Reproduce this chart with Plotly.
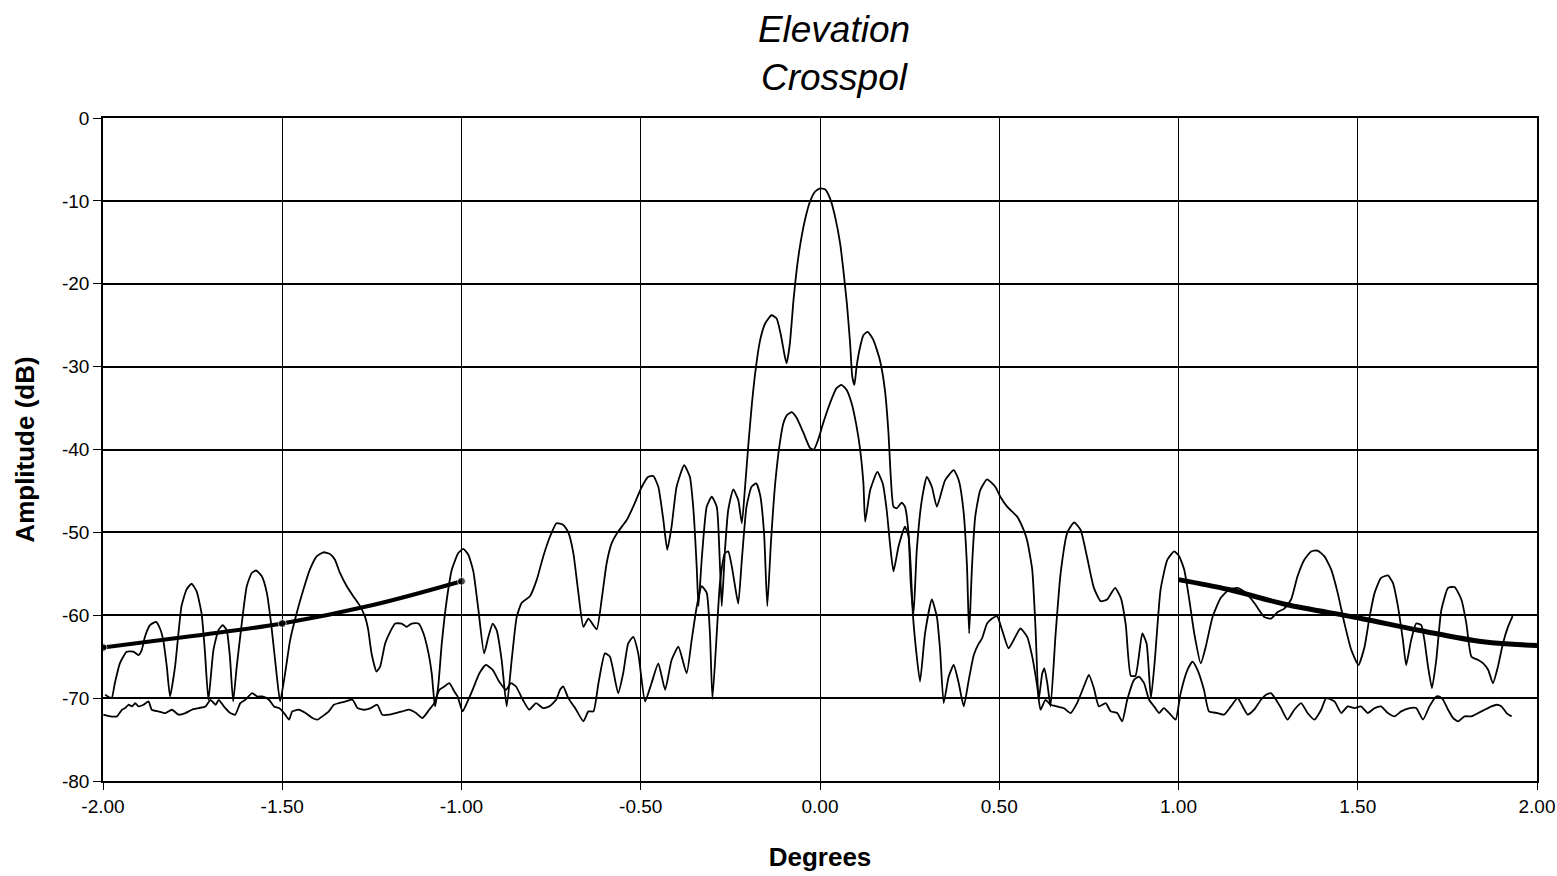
import plotly.graph_objects as go

# Elevation cut, crosspol measurement (degrees vs. dB)
copol_deg = [
    -1.994, -1.976, -1.967, -1.953, -1.934, -1.915, -1.901, -1.892, -1.883, -1.869,
    -1.852, -1.841, -1.832, -1.822, -1.813, -1.799, -1.781, -1.767, -1.753, -1.739,
    -1.725, -1.716, -1.706, -1.692, -1.678, -1.666, -1.655, -1.646, -1.637, -1.627,
    -1.613, -1.599, -1.585, -1.573, -1.557, -1.543, -1.530, -1.516, -1.506, -1.492,
    -1.478, -1.460, -1.441, -1.423, -1.404, -1.385, -1.367, -1.353, -1.339, -1.320,
    -1.302, -1.283, -1.269, -1.260, -1.251, -1.237, -1.227, -1.213, -1.199, -1.185,
    -1.167, -1.153, -1.139, -1.120, -1.106, -1.092, -1.083, -1.074, -1.065, -1.055,
    -1.041, -1.027, -1.009, -0.995, -0.981, -0.967, -0.953, -0.937, -0.925, -0.913,
    -0.902, -0.888, -0.874, -0.860, -0.846, -0.832, -0.809, -0.790, -0.772, -0.753,
    -0.735, -0.716, -0.702, -0.688, -0.674, -0.660, -0.646, -0.623, -0.609, -0.595,
    -0.581, -0.563, -0.539, -0.521, -0.497, -0.479, -0.465, -0.451, -0.437, -0.426,
    -0.414, -0.400, -0.379, -0.363, -0.353, -0.344, -0.339, -0.330, -0.316, -0.302,
    -0.288, -0.279, -0.274, -0.265, -0.256, -0.242, -0.228, -0.218, -0.209, -0.200,
    -0.190, -0.180, -0.167, -0.153, -0.135, -0.121, -0.110, -0.098, -0.093, -0.084,
    -0.074, -0.065, -0.056, -0.042, -0.028, -0.014, 0.000, 0.014, 0.028, 0.042,
    0.056, 0.065, 0.075, 0.084, 0.090, 0.096, 0.102, 0.112, 0.121, 0.133,
    0.149, 0.167, 0.181, 0.191, 0.197, 0.205, 0.214, 0.228, 0.237, 0.247,
    0.253, 0.261, 0.270, 0.284, 0.298, 0.312, 0.326, 0.349, 0.373, 0.387,
    0.400, 0.410, 0.416, 0.424, 0.433, 0.447, 0.466, 0.489, 0.503, 0.522,
    0.550, 0.568, 0.578, 0.592, 0.601, 0.610, 0.620, 0.626, 0.634, 0.643,
    0.657, 0.671, 0.690, 0.709, 0.727, 0.745, 0.764, 0.783, 0.801, 0.823,
    0.839, 0.853, 0.867, 0.880, 0.899, 0.911, 0.923, 0.934, 0.950, 0.969,
    0.988, 1.002, 1.016, 1.030, 1.044, 1.062, 1.076, 1.095, 1.118, 1.141,
    1.165, 1.188, 1.211, 1.230, 1.239, 1.258, 1.277, 1.295, 1.314, 1.332,
    1.351, 1.370, 1.388, 1.407, 1.426, 1.444, 1.463, 1.482, 1.502, 1.519,
    1.533, 1.547, 1.565, 1.584, 1.598, 1.612, 1.626, 1.635, 1.649, 1.663,
    1.677, 1.686, 1.696, 1.707, 1.719, 1.733, 1.752, 1.770, 1.789, 1.803,
    1.817, 1.836, 1.850, 1.864, 1.877, 1.891, 1.905, 1.919, 1.932,
]
copol_db = [
    -69.6, -70.0, -68.2, -65.8, -64.4, -64.4, -64.8, -64.2, -62.6, -61.2,
    -60.8, -61.6, -63.0, -66.2, -69.8, -66.2, -58.9, -56.9, -56.2, -57.1,
    -59.8, -64.2, -70.2, -64.2, -61.8, -61.2, -61.8, -65.0, -70.4, -66.2,
    -61.0, -56.5, -54.9, -54.6, -55.3, -57.3, -61.4, -67.0, -70.4, -67.0,
    -63.0, -59.8, -56.9, -54.5, -52.9, -52.4, -52.6, -53.3, -54.9, -56.5,
    -57.7, -58.9, -60.2, -61.8, -64.6, -66.8, -66.2, -63.4, -62.0, -61.0,
    -61.0, -61.4, -61.0, -61.0, -62.2, -64.6, -67.0, -71.0, -68.6, -63.4,
    -58.1, -54.5, -52.5, -52.0, -52.7, -54.7, -59.3, -64.6, -62.6, -61.0,
    -61.8, -65.4, -71.0, -65.4, -60.2, -58.5, -57.7, -55.7, -52.9, -50.5,
    -48.9, -49.1, -50.0, -52.5, -57.3, -61.4, -60.4, -61.7, -58.1, -53.7,
    -51.3, -49.9, -48.5, -46.9, -44.5, -43.3, -43.2, -44.5, -48.5, -52.1,
    -49.3, -44.5, -41.9, -43.3, -47.3, -54.1, -58.9, -53.3, -46.9, -45.7,
    -46.9, -54.1, -58.9, -52.1, -47.3, -44.8, -46.1, -48.9, -44.5, -39.5,
    -34.5, -30.5, -26.8, -24.8, -23.8, -24.2, -26.0, -28.8, -29.6, -27.2,
    -22.0, -18.3, -15.5, -12.3, -10.1, -8.9, -8.5, -8.6, -9.7, -11.9,
    -15.1, -18.3, -22.4, -27.2, -31.2, -32.2, -30.0, -27.6, -26.2, -25.8,
    -26.8, -29.2, -32.8, -38.0, -43.0, -46.9, -47.1, -46.4, -46.9, -50.1,
    -56.1, -59.8, -52.1, -46.1, -43.3, -44.5, -46.9, -43.7, -42.5, -43.7,
    -47.3, -54.1, -62.2, -54.1, -48.1, -44.9, -43.6, -44.5, -45.7, -46.9,
    -48.1, -49.7, -51.0, -54.5, -61.4, -70.2, -67.0, -66.4, -68.2, -71.0,
    -62.4, -55.0, -50.0, -48.8, -49.7, -53.0, -56.7, -58.3, -58.1, -56.7,
    -57.9, -61.2, -67.3, -67.3, -62.2, -63.4, -70.0, -65.4, -56.9, -53.3,
    -52.3, -52.9, -54.5, -58.1, -62.2, -65.8, -63.8, -60.2, -57.9, -56.9,
    -56.7, -57.3, -58.5, -59.7, -60.2, -60.4, -59.6, -59.2, -58.1, -55.3,
    -53.3, -52.3, -52.2, -52.9, -54.5, -57.3, -61.0, -64.2, -66.0, -63.8,
    -60.2, -57.3, -55.5, -55.2, -56.1, -58.9, -63.0, -66.0, -63.0, -61.0,
    -61.2, -63.0, -66.2, -68.8, -65.4, -59.4, -56.7, -56.6, -58.1, -61.0,
    -65.0, -65.4, -65.8, -66.6, -68.2, -66.2, -63.4, -61.4, -60.1,
]

xpol_deg = [
    -1.999, -1.980, -1.961, -1.947, -1.938, -1.929, -1.919, -1.910, -1.901, -1.887,
    -1.873, -1.864, -1.845, -1.826, -1.808, -1.789, -1.770, -1.752, -1.733, -1.714,
    -1.700, -1.686, -1.677, -1.663, -1.645, -1.631, -1.617, -1.603, -1.584, -1.570,
    -1.556, -1.537, -1.523, -1.509, -1.495, -1.481, -1.472, -1.454, -1.435, -1.416,
    -1.402, -1.388, -1.370, -1.356, -1.342, -1.323, -1.304, -1.290, -1.272, -1.253,
    -1.235, -1.221, -1.202, -1.183, -1.165, -1.146, -1.127, -1.109, -1.090, -1.076,
    -1.062, -1.048, -1.034, -1.020, -1.011, -0.997, -0.983, -0.969, -0.950, -0.932,
    -0.913, -0.895, -0.876, -0.862, -0.848, -0.829, -0.811, -0.792, -0.773, -0.755,
    -0.736, -0.725, -0.716, -0.702, -0.683, -0.660, -0.646, -0.632, -0.618, -0.600,
    -0.586, -0.563, -0.549, -0.535, -0.521, -0.507, -0.488, -0.470, -0.451, -0.432,
    -0.414, -0.395, -0.372, -0.358, -0.344, -0.330, -0.316, -0.307, -0.300, -0.288,
    -0.279, -0.265, -0.256, -0.246, -0.237, -0.228, -0.218, -0.205, -0.191, -0.178,
    -0.167, -0.156, -0.147, -0.137, -0.125, -0.112, -0.102, -0.091, -0.079, -0.065,
    -0.046, -0.028, -0.017, -0.005, 0.009, 0.028, 0.046, 0.060, 0.074, 0.088,
    0.102, 0.112, 0.121, 0.126, 0.140, 0.160, 0.175, 0.186, 0.196, 0.205,
    0.219, 0.237, 0.247, 0.253, 0.259, 0.268, 0.279, 0.293, 0.312, 0.326,
    0.335, 0.345, 0.359, 0.373, 0.387, 0.401, 0.415, 0.429, 0.443, 0.452,
    0.466, 0.480, 0.494, 0.508, 0.526, 0.540, 0.559, 0.578, 0.592, 0.606,
    0.615, 0.629, 0.643, 0.661, 0.680, 0.699, 0.717, 0.736, 0.750, 0.764,
    0.778, 0.797, 0.811, 0.829, 0.843, 0.857, 0.876, 0.890, 0.904, 0.918,
    0.932, 0.946, 0.959, 0.978, 0.992, 1.006, 1.025, 1.039, 1.053, 1.071,
    1.085, 1.109, 1.127, 1.146, 1.165, 1.179, 1.193, 1.211, 1.230, 1.244,
    1.258, 1.272, 1.286, 1.304, 1.323, 1.342, 1.360, 1.379, 1.398, 1.412,
    1.435, 1.454, 1.472, 1.491, 1.509, 1.528, 1.547, 1.565, 1.584, 1.603,
    1.621, 1.645, 1.663, 1.682, 1.700, 1.719, 1.728, 1.738, 1.752, 1.766,
    1.780, 1.798, 1.817, 1.836, 1.854, 1.873, 1.887, 1.901, 1.915, 1.929,
]
xpol_db = [
    -72.0, -72.2, -72.2, -71.4, -71.2, -70.8, -71.0, -70.6, -71.0, -70.8,
    -70.4, -71.4, -71.6, -71.8, -71.4, -72.0, -71.8, -71.4, -71.2, -71.0,
    -70.2, -70.8, -70.2, -71.0, -71.8, -72.0, -70.6, -70.2, -69.4, -69.8,
    -69.8, -70.2, -71.0, -71.2, -71.8, -72.6, -71.6, -71.4, -71.8, -72.4,
    -72.6, -72.2, -71.6, -70.8, -70.6, -70.4, -70.2, -71.2, -71.4, -71.2,
    -70.8, -72.0, -72.0, -71.8, -71.6, -71.4, -71.8, -72.4, -71.4, -70.6,
    -69.0, -68.6, -68.2, -69.2, -69.8, -71.6, -70.4, -69.0, -67.0, -66.0,
    -66.6, -68.0, -69.0, -68.2, -68.6, -70.2, -71.4, -70.6, -71.2, -71.0,
    -70.2, -69.0, -68.6, -70.0, -71.2, -72.8, -71.6, -71.6, -68.2, -64.6,
    -65.0, -69.4, -67.0, -63.4, -62.6, -64.6, -70.4, -68.2, -65.8, -69.0,
    -65.4, -63.8, -67.0, -63.0, -59.0, -56.5, -57.3, -62.2, -70.1, -62.2,
    -56.1, -52.5, -52.3, -54.1, -56.5, -58.6, -53.3, -46.9, -44.5, -44.1,
    -45.5, -50.1, -58.9, -51.3, -44.1, -39.2, -36.8, -35.8, -35.5, -36.2,
    -38.0, -39.8, -40.0, -38.8, -36.8, -34.4, -32.6, -32.2, -32.8, -34.4,
    -37.2, -40.0, -44.0, -48.7, -44.9, -42.7, -44.1, -47.3, -51.7, -54.7,
    -51.7, -49.3, -50.5, -54.1, -59.8, -64.2, -68.0, -62.2, -58.1, -60.2,
    -64.2, -70.6, -67.4, -66.0, -68.2, -71.0, -67.8, -64.8, -63.4, -62.8,
    -61.0, -60.4, -60.1, -61.8, -64.0, -63.0, -61.6, -62.6, -65.0, -68.6,
    -71.4, -70.2, -70.8, -71.0, -71.2, -71.8, -70.6, -68.6, -67.2, -68.8,
    -71.0, -70.6, -71.6, -71.8, -72.8, -70.2, -67.8, -67.4, -68.2, -70.2,
    -71.0, -71.8, -71.2, -72.0, -72.6, -69.4, -66.6, -65.6, -66.6, -69.0,
    -71.6, -71.8, -72.0, -71.0, -70.0, -71.0, -72.0, -71.4, -70.2, -69.6,
    -69.4, -70.2, -71.2, -72.6, -71.4, -70.6, -71.8, -72.6, -71.4, -70.0,
    -70.4, -71.8, -71.0, -71.2, -71.0, -71.8, -71.2, -71.0, -71.8, -72.2,
    -71.6, -71.2, -71.2, -72.6, -71.0, -69.8, -69.8, -70.2, -71.4, -72.4,
    -72.8, -72.2, -72.2, -71.8, -71.4, -71.0, -70.8, -71.0, -71.8, -72.2,
]

# Sidelobe envelope (left and right)
env_left_deg = [-2.00, -1.75, -1.50, -1.25, -1.00]
env_left_db = [-63.9, -62.5, -61.0, -58.8, -55.9]
env_left_marker = [8, 0, 8, 0, 8]
env_right_deg = [1.00, 1.14, 1.30, 1.50, 1.67, 1.85, 2.03]
env_right_db = [-55.7, -56.9, -58.7, -60.3, -61.8, -63.2, -63.7]

x_ticks = [-2.0, -1.5, -1.0, -0.5, 0.0, 0.5, 1.0, 1.5, 2.0]
x_tick_text = ["-2.00", "-1.50", "-1.00", "-0.50", "0.00", "0.50", "1.00", "1.50", "2.00"]
y_ticks = [0, -10, -20, -30, -40, -50, -60, -70, -80]
y_tick_text = ["0", "-10", "-20", "-30", "-40", "-50", "-60", "-70", "-80"]

FONT = "Liberation Sans, Arial, sans-serif"

fig = go.Figure()
fig.add_trace(go.Scatter(
    x=xpol_deg, y=xpol_db, mode="lines",
    line=dict(color="black", width=1.8, shape="spline", smoothing=0.5),
))
fig.add_trace(go.Scatter(
    x=copol_deg, y=copol_db, mode="lines",
    line=dict(color="black", width=1.8, shape="spline", smoothing=0.5),
))
fig.add_trace(go.Scatter(
    x=env_left_deg, y=env_left_db, mode="lines+markers",
    line=dict(color="black", width=4, shape="spline", smoothing=1.0),
    marker=dict(color="black", size=env_left_marker),
))
fig.add_trace(go.Scatter(
    x=env_right_deg, y=env_right_db, mode="lines",
    line=dict(color="black", width=5, shape="spline", smoothing=1.0),
))

fig.update_layout(
    width=1557, height=876,
    margin=dict(l=103, r=20, t=118, b=95),
    paper_bgcolor="white", plot_bgcolor="white",
    showlegend=False,
    font=dict(family=FONT, color="black", size=19),
    title=dict(
        text="<i>Elevation</i><br><i>Crosspol</i>",
        x=834 / 1557, xanchor="center", xref="container",
        y=1 - 42 / 876, yanchor="middle", yref="container",
        font=dict(family=FONT, size=37, color="black"),
    ),
)
fig.update_xaxes(
    range=[-2, 2], tickvals=x_ticks, ticktext=x_tick_text,
    automargin=False,
    showgrid=True, gridcolor="black", gridwidth=1,
    showline=True, linecolor="black", linewidth=1.5, mirror=True,
    zeroline=False, ticks="outside", ticklen=7, tickcolor="black",
    tickfont=dict(size=19),
    title=dict(text="<b>Degrees</b>", font=dict(size=26), standoff=32),
)
fig.update_yaxes(
    range=[-80, 0], tickvals=y_ticks, ticktext=y_tick_text,
    automargin=False,
    showgrid=True, gridcolor="black", gridwidth=1.6,
    showline=True, linecolor="black", linewidth=1.5, mirror=True,
    zeroline=False, ticks="outside", ticklen=8, tickcolor="black",
    tickfont=dict(size=19),
    title=dict(text="<b>Amplitude (dB)</b>", font=dict(size=26), standoff=20),
)

fig.write_html("out.html")
